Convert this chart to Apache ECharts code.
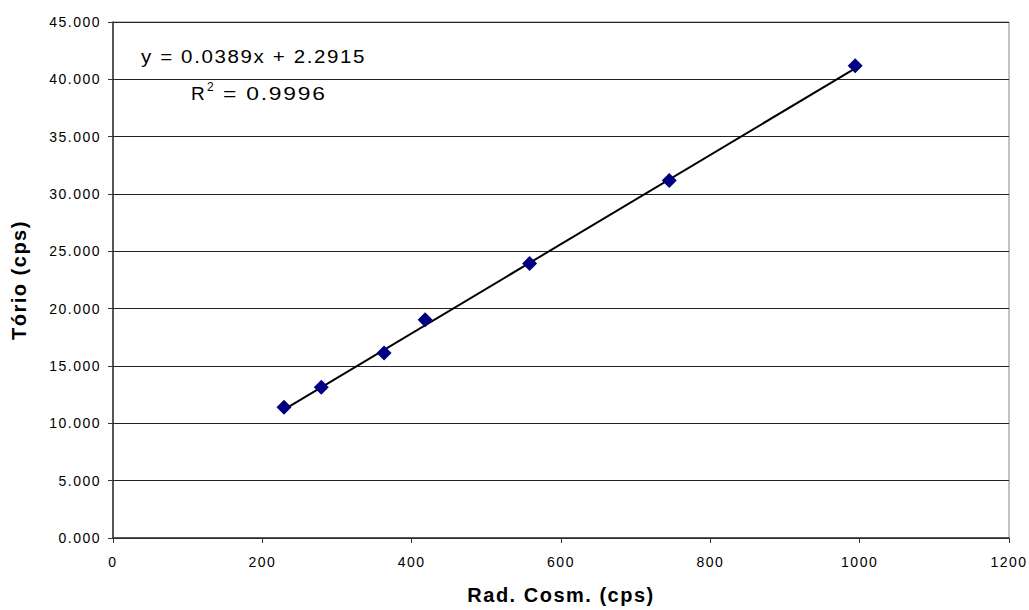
<!DOCTYPE html>
<html>
<head>
<meta charset="utf-8">
<script src="https://cdn.jsdelivr.net/npm/echarts@6/dist/echarts.min.js"></script>
<style>
  html, body { margin: 0; padding: 0; background: #fff; }
  #chart { width: 1029px; height: 610px; }
  /* loose character spacing for all chart text */
  #chart svg text { letter-spacing: 1.5px; }
</style>
</head>
<body>
<div id="chart"></div>
<script>
// Cosmic radiation vs. thorium count rates (cps)
const radCosm = [229, 279, 363, 418, 558, 745, 994];
const torio = [11.40, 13.14, 16.13, 19.03, 23.93, 31.18, 41.19];

// Linear fit reported on the chart
const slope = 0.0389;
const intercept = 2.2915;
const equationText = 'y = 0.0389x + 2.2915';
const r2Text = '= 0.9996';

const xMin = Math.min(...radCosm);
const xMax = Math.max(...radCosm);
const trend = [
  [xMin, slope * xMin + intercept],
  [xMax, slope * xMax + intercept]
];

const points = radCosm.map((x, i) => [x, torio[i]]);

const font = '"Liberation Sans", Arial, sans-serif';
const chart = echarts.init(document.getElementById('chart'), null, { renderer: 'svg' });

chart.setOption({
  animation: false,
  backgroundColor: '#fff',
  grid: {
    left: 113, right: 20, top: 22, bottom: 71,
    show: true, borderColor: '#888', borderWidth: 1
  },
  xAxis: {
    type: 'value', min: 0, max: 1200, interval: 200,
    name: 'Rad. Cosm. (cps)', nameLocation: 'middle', nameGap: 47,
    nameTextStyle: { fontFamily: font, fontSize: 20, fontWeight: 'bold', color: '#000' },
    axisLine: { show: true, lineStyle: { color: '#333', width: 1.5 } },
    axisTick: { show: true, inside: false, length: 5, lineStyle: { color: '#333' } },
    axisLabel: { fontFamily: font, fontSize: 14, color: '#000', margin: 17, formatter: v => String(v) },
    splitLine: { show: false }
  },
  yAxis: {
    type: 'value', min: 0, max: 45, interval: 5,
    name: 'Tório (cps)', nameLocation: 'middle', nameGap: 84, nameRotate: 90,
    nameTextStyle: { fontFamily: font, fontSize: 20, fontWeight: 'bold', color: '#000' },
    axisLine: { show: true, lineStyle: { color: '#333', width: 1.5 } },
    axisTick: { show: true, inside: false, length: 5, lineStyle: { color: '#333' } },
    axisLabel: {
      fontFamily: font, fontSize: 14, color: '#000', margin: 12,
      formatter: v => v.toFixed(3)
    },
    splitLine: { show: true, lineStyle: { color: '#222', width: 1 } }
  },
  graphic: [
    {
      type: 'text', x: 141, y: 47, scaleX: 1.08,
      style: { text: equationText, font: '19px ' + font, fill: '#000' }
    },
    {
      type: 'text', x: 191, y: 84,
      style: { text: 'R', font: '19px ' + font, fill: '#000' }
    },
    {
      type: 'text', x: 207, y: 81,
      style: { text: '2', font: '12px ' + font, fill: '#000' }
    },
    {
      type: 'text', x: 223, y: 84, scaleX: 1.2,
      style: { text: r2Text, font: '19px ' + font, fill: '#000' }
    }
  ],
  series: [
    {
      type: 'line', data: trend, symbol: 'none',
      lineStyle: { color: '#000', width: 2 }, z: 2
    },
    {
      type: 'scatter', data: points, symbol: 'diamond', symbolSize: 15,
      itemStyle: { color: '#000080', opacity: 1 }, z: 3
    }
  ]
});
</script>
</body>
</html>
